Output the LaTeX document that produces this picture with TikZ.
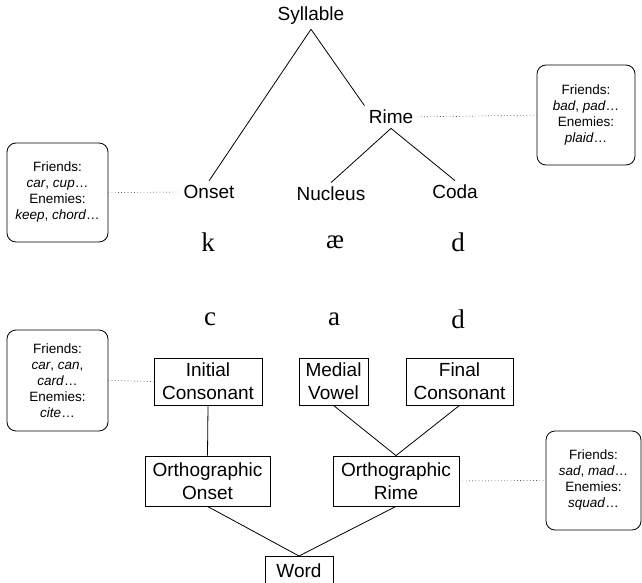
\documentclass[tikz,border=0pt]{standalone}
\usepackage{fontspec}
\setmainfont{Liberation Sans}
\newfontfamily\letterfont{Liberation Serif}
\tikzset{
  lbl/.style={font=\fontsize{19}{23}\selectfont, inner sep=4pt},
  box/.style={draw, thick, align=center, font=\fontsize{19}{23}\selectfont, inner sep=2pt},
  note/.style={draw, thick, rounded corners=9pt, align=center, font=\fontsize{13.5}{16}\selectfont, inner sep=2pt},
  letter/.style={font=\letterfont\fontsize{27}{30}\selectfont},
  dots/.style={thin, dash pattern=on 0.8pt off 2.4pt},
}
\begin{document}
\begin{tikzpicture}[x=1pt,y=-1pt,line width=0.8pt]
        \useasboundingbox (0,0) rectangle (642,583);
        % phonological tree
        \node[lbl] (syl) at (311,16) {Syllable};
        \node[lbl] (rime) at (391,117) {Rime};
        \node[lbl] (onset) at (209,192) {Onset};
        \node[lbl] (nucleus) at (331,194) {Nucleus};
        \node[lbl] (coda) at (455,192) {Coda};
        \draw (syl.south)--(onset.north);
        \draw (syl.south)--(rime.north west);
        \draw (rime.south)--(nucleus.north);
        \draw (rime.south)--(coda.north);
        % notes
        \node[note, minimum width=101pt, minimum height=99pt] (n1) at (57.5,192.5)
            {Friends:\\\textit{car}, \textit{cup}\ldots\\Enemies:\\\textit{keep}, \textit{chord}\ldots};
        \node[note, minimum width=98pt, minimum height=100pt] (n2) at (586,115)
            {Friends:\\\textit{bad}, \textit{pad}\ldots\\Enemies:\\\textit{plaid}\ldots};
        \draw[dots] (n1.east)--(onset.west);
        \draw[dots] (rime.east)--(n2.west);
        % letters
        \node[letter] (k) at (208,242) {k};
        \node[letter] (ae) at (335,242) {æ};
        \node[letter] (d1) at (458,242) {d};
        \node[letter] (c) at (210,319) {c};
        \node[letter] (a) at (334,319) {a};
        \node[letter] (d2) at (458,319) {d};
        % orthographic tree
        \node[box, minimum width=108pt, minimum height=47pt] (ic) at (208,381.5) {Initial\\Consonant};
        \node[box, minimum width=69pt, minimum height=47pt] (mv) at (333.5,381.5) {Medial\\Vowel};
        \node[box, minimum width=107pt, minimum height=47pt] (fc) at (459.5,381.5) {Final\\Consonant};
        \node[box, minimum width=125pt, minimum height=50pt] (oonset) at (207.5,481) {Orthographic\\Onset};
        \node[box, minimum width=126pt, minimum height=50pt] (orime) at (396,481) {Orthographic\\Rime};
        \node[box, minimum width=68pt, minimum height=29pt, anchor=north] (word) at (299,556) {Word};
        \draw (ic.south)--(oonset.north);
        \draw (mv.south)--(orime.north);
        \draw (fc.south)--(orime.north);
        \draw (oonset.south)--(word.north);
        \draw (orime.south)--(word.north);
        \node[note, minimum width=101pt, minimum height=101pt] (n3) at (57.5,380.5)
            {Friends:\\\textit{car}, \textit{can},\\\textit{card}\ldots\\Enemies:\\\textit{cite}\ldots};
        \node[note, minimum width=95pt, minimum height=99pt] (n4) at (593.5,480.5)
            {Friends:\\\textit{sad}, \textit{mad}\ldots\\Enemies:\\\textit{squad}\ldots};
        \draw[dots] (n3.east)--(ic.west);
        \draw[dots] (orime.east)--(n4.west);
    \end{tikzpicture}
\end{document}
